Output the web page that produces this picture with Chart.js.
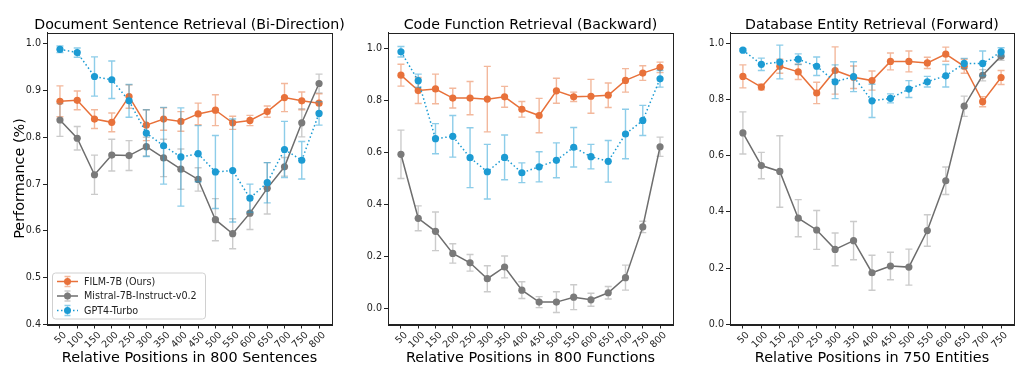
<!DOCTYPE html>
<html>
<head>
<meta charset="utf-8">
<script src="https://cdn.jsdelivr.net/npm/chart.js@4.4.1/dist/chart.umd.min.js"></script>
<style>
  html, body { margin: 0; padding: 0; background: #fff; }
  body { width: 1024px; height: 375px; position: relative; overflow: hidden; }
  canvas { position: absolute; top: 0; }
</style>
</head>
<body>
<canvas id="c1" width="360" height="375" style="left:0px"></canvas>
<canvas id="c2" width="340" height="375" style="left:340px"></canvas>
<canvas id="c3" width="344" height="375" style="left:680px"></canvas>
<script>
// categories
const pos800 = [50, 100, 150, 200, 250, 300, 350, 400, 450, 500, 550, 600, 650, 700, 750, 800]
const pos750 = [50, 100, 150, 200, 250, 300, 350, 400, 450, 500, 550, 600, 650, 700, 750]

const seriesNames = ["FILM-7B (Ours)", "Mistral-7B-Instruct-v0.2", "GPT4-Turbo"]

// Document Sentence Retrieval (Bi-Direction)
const film1       = [0.877, 0.879, 0.839, 0.832, 0.887, 0.826, 0.839, 0.834, 0.850, 0.858, 0.831, 0.836, 0.855, 0.885, 0.878, 0.873]
const film1Err    = [0.033, 0.020, 0.020, 0.020, 0.025, 0.033, 0.024, 0.021, 0.023, 0.033, 0.014, 0.011, 0.012, 0.030, 0.019, 0.020]
const mistral1    = [0.837, 0.798, 0.720, 0.762, 0.761, 0.780, 0.756, 0.732, 0.710, 0.624, 0.594, 0.638, 0.691, 0.737, 0.831, 0.915]
const mistral1Err = [0.035, 0.025, 0.042, 0.034, 0.032, 0.020, 0.040, 0.043, 0.025, 0.045, 0.032, 0.035, 0.055, 0.020, 0.030, 0.020]
const gpt1        = [0.988, 0.981, 0.930, 0.923, 0.878, 0.809, 0.782, 0.758, 0.765, 0.726, 0.729, 0.670, 0.703, 0.774, 0.751, 0.851]
const gpt1Err     = [0.007, 0.010, 0.042, 0.040, 0.035, 0.050, 0.082, 0.105, 0.060, 0.078, 0.110, 0.030, 0.043, 0.060, 0.040, 0.025]

// Code Function Retrieval (Backward)
const film2       = [0.898, 0.839, 0.845, 0.810, 0.810, 0.806, 0.815, 0.767, 0.743, 0.838, 0.815, 0.817, 0.821, 0.878, 0.906, 0.928]
const film2Err    = [0.042, 0.050, 0.057, 0.038, 0.064, 0.126, 0.040, 0.030, 0.066, 0.048, 0.018, 0.065, 0.047, 0.045, 0.028, 0.020]
const mistral2    = [0.594, 0.348, 0.298, 0.213, 0.177, 0.116, 0.161, 0.072, 0.026, 0.026, 0.045, 0.035, 0.062, 0.120, 0.315, 0.623]
const mistral2Err = [0.093, 0.048, 0.074, 0.037, 0.032, 0.050, 0.042, 0.032, 0.021, 0.040, 0.048, 0.025, 0.024, 0.048, 0.022, 0.037]
const gpt2        = [0.988, 0.877, 0.654, 0.663, 0.581, 0.527, 0.582, 0.523, 0.546, 0.571, 0.621, 0.585, 0.567, 0.672, 0.724, 0.884]
const gpt2Err     = [0.020, 0.025, 0.058, 0.080, 0.115, 0.105, 0.086, 0.038, 0.058, 0.067, 0.076, 0.047, 0.080, 0.095, 0.058, 0.032]

// Database Entity Retrieval (Forward)
const film3       = [0.882, 0.844, 0.918, 0.898, 0.823, 0.903, 0.879, 0.867, 0.935, 0.935, 0.930, 0.961, 0.918, 0.792, 0.878]
const film3Err    = [0.041, 0.010, 0.025, 0.027, 0.038, 0.084, 0.040, 0.034, 0.030, 0.037, 0.020, 0.025, 0.025, 0.018, 0.025]
const mistral3    = [0.681, 0.565, 0.544, 0.378, 0.336, 0.267, 0.298, 0.184, 0.208, 0.204, 0.334, 0.511, 0.776, 0.886, 0.954]
const mistral3Err = [0.075, 0.047, 0.127, 0.066, 0.069, 0.058, 0.068, 0.062, 0.049, 0.064, 0.056, 0.049, 0.036, 0.020, 0.015]
const gpt3        = [0.975, 0.925, 0.933, 0.943, 0.918, 0.863, 0.881, 0.795, 0.804, 0.837, 0.863, 0.884, 0.928, 0.928, 0.969]
const gpt3Err     = [0.005, 0.022, 0.060, 0.019, 0.033, 0.060, 0.053, 0.059, 0.016, 0.030, 0.019, 0.040, 0.018, 0.044, 0.015]

// y tick labels
const yTicks1 = [0.4, 0.5, 0.6, 0.7, 0.8, 0.9, 1.0]
const yTicks2 = [0.0, 0.2, 0.4, 0.6, 0.8, 1.0]
const yTicks3 = [0.0, 0.2, 0.4, 0.6, 0.8, 1.0]

const FONT   = "'DejaVu Sans', sans-serif"
const ORANGE = "#E8713A"
const GRAY   = "#7A7A7A"
const BLUE   = "#1C9BD3"
const INK    = "#222222"

const errorBars = {
  id: "errorBars",
  beforeDatasetDraw(chart, args) {
    const ds = chart.data.datasets[args.index]
    if (!ds.errors) return
    const { ctx, chartArea, scales: { x, y } } = chart
    ctx.save()
    ctx.beginPath()
    ctx.rect(chartArea.left, chartArea.top, chartArea.width, chartArea.height)
    ctx.clip()
    ctx.strokeStyle = ds.errorColor
    ctx.lineWidth = 1.4
    ds.data.forEach((p, i) => {
      const e  = ds.errors[i]
      const px = x.getPixelForValue(p.x)
      const y0 = y.getPixelForValue(p.y - e)
      const y1 = y.getPixelForValue(p.y + e)
      ctx.beginPath()
      ctx.moveTo(px, y0); ctx.lineTo(px, y1)
      ctx.moveTo(px - 3.5, y0); ctx.lineTo(px + 3.5, y0)
      ctx.moveTo(px - 3.5, y1); ctx.lineTo(px + 3.5, y1)
      ctx.stroke()
    })
    ctx.restore()
  }
}

// axes frame plus a title centred over the plot area (no maxWidth squeeze)
const frame = {
  id: "frame",
  afterDatasetsDraw(chart, args, opts) {
    const { ctx, chartArea: a } = chart
    ctx.save()
    ctx.strokeStyle = INK
    ctx.lineWidth = 1
    ctx.strokeRect(Math.round(a.left) + 0.5, Math.round(a.top) + 0.5, Math.round(a.width), Math.round(a.height))
    if (opts.title) {
      ctx.fillStyle = "#000"
      ctx.font = "14.2px " + FONT
      ctx.textAlign = "center"
      ctx.textBaseline = "middle"
      ctx.fillText(opts.title, (a.left + a.right) / 2, 25.5)
    }
    ctx.restore()
  }
}

const boxLegend = {
  id: "boxLegend",
  afterDraw(chart, args, opts) {
    if (!opts.show) return
    const { ctx, chartArea: a } = chart
    const left = a.left + 5, top = a.bottom - 52, w = 153, h = 46
    ctx.save()
    ctx.fillStyle = "rgba(255,255,255,0.85)"
    ctx.strokeStyle = "#D0D0D0"
    ctx.lineWidth = 1
    ctx.beginPath()
    ctx.roundRect(left + 0.5, top + 0.5, w, h, 3)
    ctx.fill(); ctx.stroke()
    ctx.font = "9.6px " + FONT
    ctx.textBaseline = "middle"
    chart.data.datasets.forEach((ds, i) => {
      const cy = top + 9 + i * 14.5
      const x0 = left + 5, x1 = left + 26, xm = (x0 + x1) / 2
      ctx.strokeStyle = ds.errorColor
      ctx.lineWidth = 1.4
      ctx.setLineDash([])
      ctx.beginPath()
      ctx.moveTo(xm, cy - 5); ctx.lineTo(xm, cy + 5)
      ctx.moveTo(xm - 3, cy - 5); ctx.lineTo(xm + 3, cy - 5)
      ctx.moveTo(xm - 3, cy + 5); ctx.lineTo(xm + 3, cy + 5)
      ctx.stroke()
      ctx.strokeStyle = ds.borderColor
      ctx.lineWidth = 1.5
      ctx.setLineDash(ds.borderDash || [])
      ctx.beginPath()
      ctx.moveTo(x0, cy); ctx.lineTo(x1, cy)
      ctx.stroke()
      ctx.setLineDash([])
      ctx.fillStyle = ds.pointBackgroundColor
      ctx.beginPath()
      ctx.arc(xm, cy, 3.5, 0, Math.PI * 2)
      ctx.fill()
      ctx.fillStyle = INK
      ctx.fillText(ds.label, left + 32, cy + 0.5)
    })
    ctx.restore()
  }
}

function toPoints(values) {
  return values.map((v, i) => ({ x: i, y: v }))
}

function makeChart(id, o) {
  const margin = (o.cats.length - 1) * 0.05
  const series = [
    { label: seriesNames[0], data: toPoints(o.film),    errors: o.filmErr,    borderColor: ORANGE,    pointBackgroundColor: ORANGE, errorColor: "rgba(232,113,58,0.5)",  order: 3 },
    { label: seriesNames[1], data: toPoints(o.mistral), errors: o.mistralErr, borderColor: "#6E6E6E", pointBackgroundColor: GRAY,   errorColor: "rgba(140,140,140,0.45)", order: 2 },
    { label: seriesNames[2], data: toPoints(o.gpt),     errors: o.gptErr,     borderColor: BLUE,      pointBackgroundColor: BLUE,   errorColor: "rgba(28,155,211,0.5)",  order: 1, borderDash: [1.5, 2.5] }
  ]
  return new Chart(document.getElementById(id), {
    type: "line",
    data: {
      datasets: series.map(s => Object.assign({
        borderWidth: 1.5,
        pointRadius: 3.6,
        pointBorderWidth: 0,
        pointHoverRadius: 3.6,
        tension: 0,
        fill: false
      }, s))
    },
    options: {
      responsive: false,
      animation: false,
      layout: { padding: { left: 0, right: o.padRight, top: 32.5, bottom: 0 } },
      plugins: {
        legend:  { display: false },
        tooltip: { enabled: false },
        title:   { display: false },
        frame:   { title: o.title },
        boxLegend: { show: !!o.legend }
      },
      scales: {
        x: {
          type: "linear",
          min: -margin,
          max: o.cats.length - 1 + margin,
          afterBuildTicks: s => { s.ticks = o.cats.map((c, i) => ({ value: i })) },
          afterFit: s => { s.height = 50.5 },
          grid:   { display: true, drawOnChartArea: false, drawTicks: true, tickLength: 4, color: INK },
          border: { display: true, color: INK },
          ticks: {
            color: INK,
            font: { family: FONT, size: 9.6 },
            minRotation: 45,
            maxRotation: 45,
            labelOffset: 5,
            padding: 1,
            autoSkip: false,
            callback: (v, i) => o.cats[i]
          },
          title: {
            display: true,
            text: o.xTitle,
            color: "#000",
            font: { family: FONT, size: 14.4 },
            padding: { top: 0, bottom: 8 }
          }
        },
        y: {
          min: o.yMin,
          max: o.yMax,
          afterBuildTicks: s => { s.ticks = o.yTicks.map(v => ({ value: v })) },
          afterFit: s => { s.width = o.yWidth },
          grid:   { display: true, drawOnChartArea: false, drawTicks: true, tickLength: 4, color: INK },
          border: { display: true, color: INK },
          ticks: {
            color: INK,
            font: { family: FONT, size: 9.6 },
            padding: 2,
            callback: v => v.toFixed(1)
          },
          title: {
            display: !!o.yTitle,
            text: o.yTitle,
            color: "#000",
            font: { family: FONT, size: 14.4 },
            padding: { top: 12, bottom: 0 }
          }
        }
      }
    },
    plugins: [errorBars, frame, boxLegend]
  })
}

makeChart("c1", {
  title: "Document Sentence Retrieval (Bi-Direction)",
  xTitle: "Relative Positions in 800 Sentences",
  yTitle: "Performance (%)",
  cats: pos800, yTicks: yTicks1, yMin: 0.4, yMax: 1.024,
  film: film1, filmErr: film1Err, mistral: mistral1, mistralErr: mistral1Err, gpt: gpt1, gptErr: gpt1Err,
  yWidth: 47, padRight: 28, legend: true
})

makeChart("c2", {
  title: "Code Function Retrieval (Backward)",
  xTitle: "Relative Positions in 800 Functions",
  cats: pos800, yTicks: yTicks2, yMin: -0.06, yMax: 1.062,
  film: film2, filmErr: film2Err, mistral: mistral2, mistralErr: mistral2Err, gpt: gpt2, gptErr: gpt2Err,
  yWidth: 48, padRight: 7
})

makeChart("c3", {
  title: "Database Entity Retrieval (Forward)",
  xTitle: "Relative Positions in 750 Entities",
  cats: pos750, yTicks: yTicks3, yMin: 0, yMax: 1.038,
  film: film3, filmErr: film3Err, mistral: mistral3, mistralErr: mistral3Err, gpt: gpt3, gptErr: gpt3Err,
  yWidth: 50, padRight: 10
})
</script>
</body>
</html>
